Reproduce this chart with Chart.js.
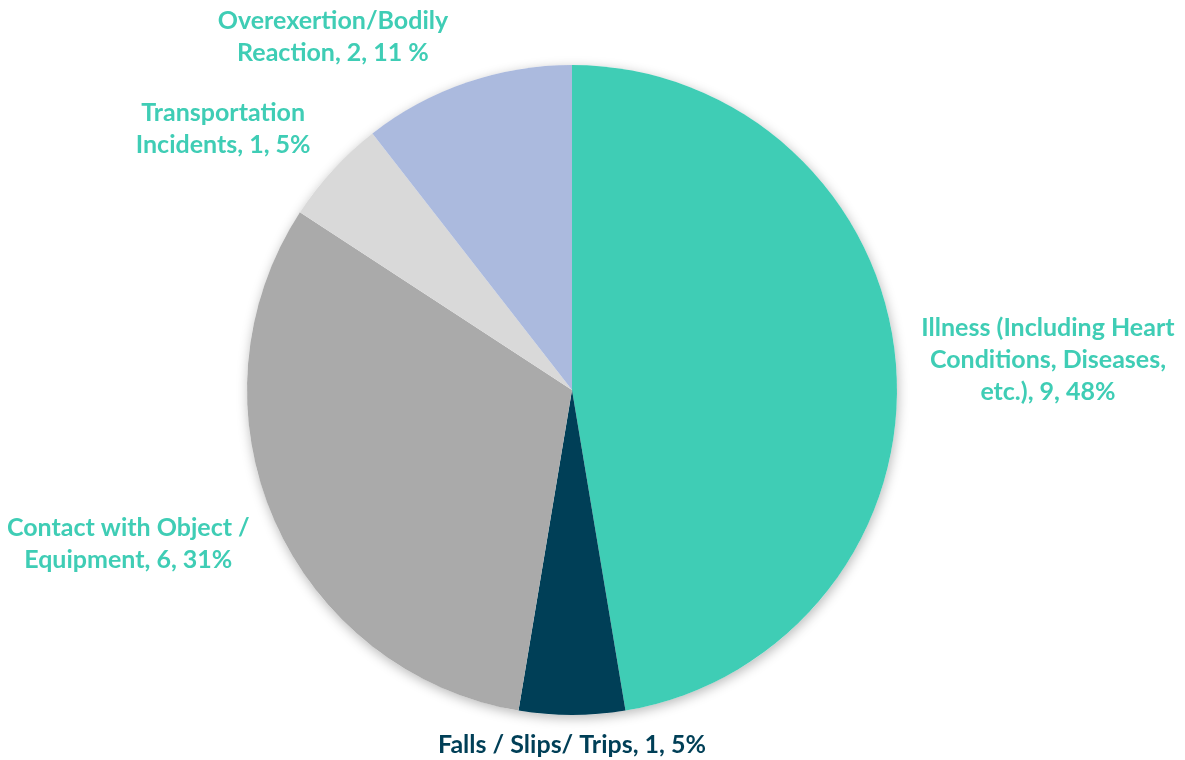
<!DOCTYPE html>
<html lang="en">
<head>
    <meta charset="UTF-8">
    <title>Fatalities by Event Type</title>
    <script src="https://cdn.jsdelivr.net/npm/chart.js"></script>
    <style>
        body, html {
            margin: 0;
            padding: 0;
            width: 1185px;
            height: 760px;
            overflow: hidden;
            background: #fff;
        }
        #wrap { width: 1185px; height: 760px; }
    </style>
</head>
<body>
    <div id="wrap"><canvas id="pieChart"></canvas></div>

    <script>
        const categories = ["Illness (Including Heart Conditions, Diseases, etc.)", "Falls / Slips/ Trips",
            "Contact with Object / Equipment", "Transportation Incidents", "Overexertion/Bodily Reaction"];
        const counts = [9, 1, 6, 1, 2];
        const percentText = ["48%", "5%", "31%", "5%", "11 %"];
        // label lines as they wrap in the original
        const labelLines = [
            ["Illness (Including Heart", "Conditions, Diseases,", "etc.), 9, 48%"],
            ["Falls / Slips/ Trips, 1, 5%"],
            ["Contact with Object /", "Equipment, 6, 31%"],
            ["Transportation", "Incidents, 1, 5%"],
            ["Overexertion/Bodily", "Reaction, 2, 11 %"]
        ];
        const sliceColors = ['#3FCDB5', '#003F57', '#AAAAAA', '#D9D9D9', '#ABBADE'];
        const labelColors = ['#3FCDB5', '#003F57', '#3FCDB5', '#3FCDB5', '#3FCDB5'];

        const FONT = 'bold 25px Lato';
        const LINE_H = 32;
        const GAP = 25;
        // small per-label nudges, like dragging labels in a spreadsheet
        const nudges = [[1, 3], [0, -11], [-12, 0], [-27, -2], [-88, 8]];

        // soft glow under the whole pie
        const pieShadow = {
            id: 'pieShadow',
            beforeDatasetsDraw(chart) {
                const arc = chart.getDatasetMeta(0).data[0];
                if (!arc) return;
                const ctx = chart.ctx;
                ctx.save();
                ctx.shadowColor = 'rgba(0,0,0,0.28)';
                ctx.shadowBlur = 12;
                ctx.shadowOffsetX = 1;
                ctx.shadowOffsetY = 3;
                ctx.fillStyle = '#fff';
                ctx.beginPath();
                ctx.arc(arc.x, arc.y, arc.outerRadius, 0, Math.PI * 2);
                ctx.fill();
                ctx.restore();
            }
        };

        const outsideLabels = {
            id: 'outsideLabels',
            afterDatasetsDraw(chart) {
                const ctx = chart.ctx;
                ctx.save();
                ctx.font = FONT;
                ctx.textAlign = 'center';
                ctx.textBaseline = 'middle';
                chart.getDatasetMeta(0).data.forEach((arc, i) => {
                    const mid = (arc.startAngle + arc.endAngle) / 2;
                    const dx = Math.cos(mid), dy = Math.sin(mid);
                    const r = arc.outerRadius + GAP;
                    const lines = labelLines[i];
                    const halfW = Math.max(...lines.map(l => ctx.measureText(l).width)) / 2;
                    const halfH = lines.length * LINE_H / 2;
                    const cx = arc.x + dx * r + dx * halfW + nudges[i][0];
                    const cy = arc.y + dy * r + dy * halfH + nudges[i][1];
                    ctx.fillStyle = labelColors[i];
                    lines.forEach((line, j) => {
                        ctx.fillText(line, cx, cy - halfH + LINE_H * (j + 0.5));
                    });
                });
                ctx.restore();
            }
        };

        const ctxPie = document.getElementById('pieChart').getContext('2d');
        new Chart(ctxPie, {
            type: 'pie',
            data: {
                labels: categories,
                datasets: [{
                    data: counts,
                    backgroundColor: sliceColors,
                    borderWidth: 0,
                    hoverOffset: 0
                }]
            },
            options: {
                responsive: true,
                maintainAspectRatio: false,
                animation: false,
                layout: { padding: { left: 247, right: 288, top: 65, bottom: 45 } },
                plugins: {
                    legend: { display: false },
                    tooltip: { enabled: false }
                }
            },
            plugins: [pieShadow, outsideLabels]
        });
    </script>
</body>
</html>
